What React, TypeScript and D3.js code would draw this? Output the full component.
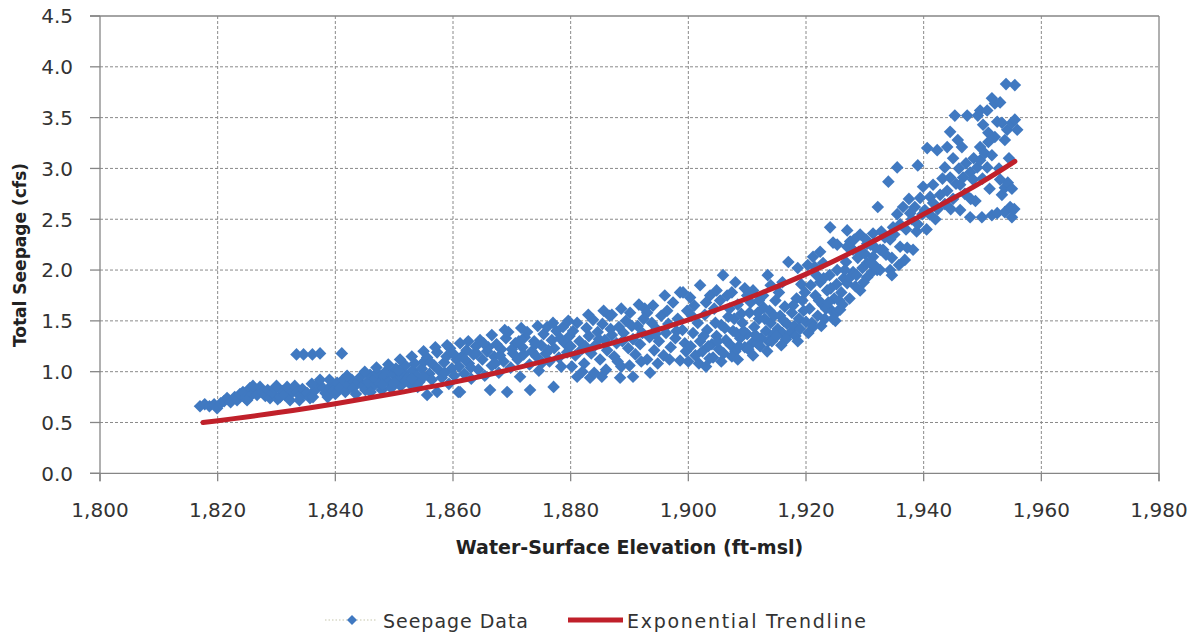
import React from "react";
import * as d3 from "d3";

const xTicks = [1800, 1820, 1840, 1860, 1880, 1900, 1920, 1940, 1960, 1980];
const yTicks = [0, 0.5, 1.0, 1.5, 2.0, 2.5, 3.0, 3.5, 4.0, 4.5];

const xTitle = "Water-Surface Elevation (ft-msl)";
const yTitle = "Total Seepage  (cfs)";
const seriesNames = ["Seepage Data", "Exponential Trendline"];

// Exponential trendline
const trendElev = [1817.5, 1830, 1840, 1850, 1860, 1870, 1880, 1890, 1900, 1910, 1920, 1930, 1940, 1950, 1955.5];
const trendCfs = [0.5, 0.595, 0.685, 0.785, 0.895, 1.025, 1.17, 1.33, 1.51, 1.72, 1.96, 2.24, 2.55, 2.87, 3.07];

// Seepage data [elevation ft-msl, seepage cfs]
const seepageData: [number, number][] = [
  [1817.0,0.66],[1817.8,0.68],[1818.6,0.66],[1819.4,0.68],[1819.9,0.64],[1820.5,0.69],[1821.1,0.71],[1821.6,0.74],[1822.2,0.70],[1822.9,0.75],[1823.3,0.72],[1823.8,0.78],[1824.3,0.80],[1824.7,0.74],[1825.0,0.72],[1825.5,0.84],[1825.9,0.78],[1826.4,0.81],[1826.7,0.77],[1827.2,0.85],[1827.6,0.80],[1828.1,0.76],[1828.5,0.82],[1828.9,0.74],[1829.3,0.79],[1829.7,0.84],[1830.2,0.73],
  [1830.6,0.75],[1831.0,0.81],[1831.4,0.77],[1831.8,0.85],[1832.3,0.72],[1832.7,0.80],[1833.1,0.86],[1833.5,0.80],[1833.9,0.72],[1834.0,0.76],[1834.4,0.83],[1834.9,0.78],[1835.2,0.79],[1835.7,0.74],[1836.2,0.75],[1836.6,0.82],[1837.0,0.87],[1837.4,0.92],[1837.9,0.84],[1838.3,0.79],[1838.7,0.75],[1839.1,0.85],[1839.6,0.81],[1840.0,0.78],[1840.3,0.89],[1840.8,0.84],[1841.3,0.92],[1841.7,0.80],[1842.2,0.87],[1842.8,0.92],[1843.0,0.84],[1843.5,0.78],[1843.9,0.90],[1844.3,0.95],[1844.7,0.86],[1845.1,0.82],
  [1833.4,1.17],[1834.6,1.17],[1836.1,1.17],[1837.4,1.18],[1841.1,1.18],
  [1845.5,0.90],[1845.9,0.97],[1846.3,0.85],[1846.7,0.93],[1847.1,0.99],[1847.5,0.88],[1847.9,0.82],[1848.3,0.95],[1848.7,1.01],[1849.1,0.90],[1849.5,0.84],[1849.9,0.97],[1850.3,1.03],[1850.7,0.92],[1851.1,0.86],[1851.5,0.99],[1851.9,1.06],[1852.3,0.94],[1852.7,0.88],[1853.1,1.01],[1853.5,1.08],[1853.9,0.96],[1854.3,0.90],[1854.7,1.03],[1855.1,1.10],[1855.6,0.77],[1855.6,1.14],[1856.0,0.98],[1856.4,0.92],[1856.8,1.06],[1857.3,0.80],[1857.3,1.19],[1857.7,1.01],[1858.1,0.94],[1858.5,1.09],[1858.9,1.15],[1859.3,0.88],[1859.5,1.23],[1859.8,1.03],[1860.2,0.96],[1860.9,0.80],[1860.6,1.12],
  [1846.0,0.80],[1848.0,0.87],[1850.0,0.89],[1852.0,0.91],[1854.0,0.85],[1856.2,1.09],[1858.6,0.99],[1850.8,1.01],[1853.0,0.93],[1855.0,0.95],
  [1861.0,1.05],[1861.2,1.28],[1861.2,0.80],[1861.5,1.15],[1861.9,0.98],[1862.3,1.21],[1862.7,1.08],[1863.1,0.93],[1863.5,1.17],[1863.9,1.25],[1864.3,1.02],[1864.6,1.31],[1865.0,1.12],[1865.4,0.96],[1865.8,1.20],[1866.3,0.82],[1866.6,1.36],[1866.6,1.06],[1867.0,1.15],[1867.4,1.27],[1867.8,0.99],[1868.2,1.22],[1868.6,1.10],[1869.0,1.33],[1869.2,0.80],[1869.4,1.39],[1869.8,1.04],[1870.2,1.18],
  [1870.6,1.28],[1871.0,1.12],[1871.4,0.95],[1871.8,1.24],[1872.2,1.34],[1872.6,1.39],[1873.0,1.07],[1873.1,0.82],[1873.4,1.20],[1873.8,1.30],[1874.2,1.15],[1874.6,1.01],[1875.0,1.26],[1875.4,1.37],[1875.8,1.18],[1876.0,1.44],[1876.4,1.10],[1876.8,1.31],[1877.1,0.85],[1877.2,1.23],[1877.6,1.40],[1878.0,1.14],[1878.4,1.05],[1878.7,1.44],[1879.0,1.28],[1879.4,1.19],[1879.8,1.35],
  [1862.0,1.12],[1864.0,1.18],[1866.0,1.24],[1868.0,1.16],[1870.0,1.22],[1872.0,1.17],[1874.0,1.27],[1876.2,1.21],[1878.2,1.33],[1880.0,1.25],[1863.0,1.04],[1867.2,1.08],[1871.2,1.30],[1875.2,1.09],
  [1880.4,1.40],[1880.8,1.16],[1881.1,0.95],[1881.1,1.48],[1881.5,1.30],[1881.9,1.22],[1882.3,1.08],[1882.7,1.43],[1883.1,1.35],[1883.3,0.94],[1883.5,1.18],[1883.8,1.51],[1884.2,1.26],[1884.6,1.39],[1885.0,1.12],[1885.3,0.95],[1885.4,1.47],[1885.8,1.31],[1886.2,1.21],[1886.6,1.55],[1887.0,1.56],[1887.0,1.36],[1887.4,1.15],[1887.8,1.28],[1888.2,1.44],[1888.4,0.94],[1888.6,1.05],[1889.0,1.38],[1889.4,1.50],[1889.8,1.23],[1890.1,1.58],[1890.6,0.95],[1890.6,1.32],[1891.0,1.17],[1891.4,1.45],[1891.8,1.27],[1892.2,1.38],[1892.6,1.62],[1893.0,1.58],[1893.0,1.12],[1893.5,0.99],[1893.4,1.34],[1893.8,1.48],[1894.0,1.65],[1894.2,1.21],[1894.6,1.42],[1895.0,1.30],[1895.4,1.55],[1895.8,1.16],[1896.0,1.75],[1896.2,1.38],[1896.6,1.47],[1897.0,1.24],[1897.4,1.68],[1897.8,1.33],[1898.2,1.52],[1898.6,1.78],[1898.6,1.11],[1899.0,1.41],[1899.1,1.78],[1899.4,1.28],[1899.8,1.60],
  [1882.0,1.00],[1884.0,0.99],[1886.0,1.02],[1888.0,1.10],[1890.0,1.06],[1892.0,1.10],[1894.8,1.08],[1896.8,1.12],[1880.2,1.05],[1882.5,1.25],[1884.8,1.32],[1886.8,1.42],[1888.8,1.30],[1890.4,1.45],[1892.4,1.52],[1894.4,1.37],[1896.4,1.60],[1898.0,1.40],[1899.6,1.20],
  [1900.0,1.10],[1900.3,1.73],[1900.4,1.25],[1900.8,1.38],[1901.2,1.16],[1901.6,1.48],[1902.0,1.85],[1902.0,1.30],[1902.4,1.20],[1902.8,1.56],[1903.2,1.41],[1903.6,1.13],[1903.7,1.75],[1904.0,1.27],[1904.2,1.14],[1904.4,1.62],[1904.8,1.35],[1905.2,1.22],[1905.6,1.46],[1905.9,1.95],[1906.0,1.18],[1906.4,1.31],[1906.6,1.75],[1906.8,1.54],[1907.2,1.26],[1907.6,1.40],[1908.0,1.20],[1908.4,1.66],[1908.8,1.33],[1909.2,1.48],[1909.6,1.82],[1909.6,1.24],[1910.0,1.37],[1910.4,1.58],[1910.8,1.28],[1911.0,1.80],[1911.2,1.44],[1911.7,1.28],[1912.0,1.52],[1912.4,1.33],[1912.7,1.75],[1912.8,1.63],[1913.2,1.40],[1913.5,1.95],[1913.6,1.30],[1914.0,1.48],[1914.4,1.36],[1914.8,1.70],[1915.2,1.42],[1915.6,1.55],[1916.0,1.38],[1916.4,1.64],[1916.8,1.47],[1917.0,2.08],[1917.3,1.38],[1917.6,1.58],[1918.0,1.45],[1918.6,2.02],[1918.4,1.72],[1918.8,1.52],[1919.2,1.86],[1919.6,1.60],[1920.0,1.49],[1920.3,2.05],
  [1900.6,1.55],[1901.0,1.65],[1901.8,1.08],[1902.6,1.35],[1903.0,1.68],[1903.4,1.25],[1904.6,1.48],[1905.0,1.30],[1905.4,1.70],[1906.2,1.43],[1907.0,1.62],[1907.4,1.15],[1907.8,1.52],[1908.2,1.38],[1908.6,1.25],[1909.0,1.57],[1909.4,1.40],[1910.2,1.22],[1910.6,1.68],[1911.4,1.36],[1911.8,1.58],[1912.2,1.25],[1913.0,1.52],[1913.8,1.60],[1914.2,1.30],[1914.6,1.55],[1915.0,1.35],[1915.4,1.78],[1916.2,1.50],[1916.6,1.32],[1917.8,1.65],[1918.2,1.35],[1919.0,1.42],[1919.4,1.70],[1919.8,1.78],[1916.0,1.88],[1914.0,1.85],[1908.0,1.88],[1910.0,1.75],[1912.0,1.70],[1904.8,1.80],[1907.4,1.78],
  [1920.6,1.62],[1921.0,1.48],[1921.2,1.44],[1921.2,2.13],[1921.5,2.03],[1921.6,1.75],[1922.0,1.55],[1922.4,2.18],[1922.4,1.88],[1922.8,1.66],[1922.9,2.07],[1923.2,1.52],[1923.6,1.80],[1924.0,1.95],[1924.1,2.42],[1924.4,1.60],[1924.6,2.27],[1924.8,1.72],[1925.2,1.86],[1925.3,2.25],[1925.3,2.00],[1925.3,1.59],[1925.8,1.61],[1926.0,1.78],[1926.4,1.92],[1926.8,2.08],[1927.0,2.39],[1927.0,1.87],[1927.0,2.23],[1927.5,2.28],[1927.5,1.93],[1928.0,2.20],[1928.0,1.98],[1928.4,1.84],[1928.8,2.12],[1929.2,2.35],[1929.2,1.80],[1929.6,2.02],[1930.0,2.16],[1930.4,2.26],[1930.4,2.07],[1930.4,1.93],[1930.9,2.07],[1931.2,1.98],[1931.4,2.36],[1931.4,2.13],[1931.8,2.22],[1932.1,2.00],[1932.2,2.62],[1932.6,2.20],[1932.6,2.00],[1933.1,2.20],[1933.4,2.32],[1934.0,2.87],[1934.3,2.30],[1934.3,2.00],[1934.8,2.42],
  [1920.8,1.85],[1921.8,1.95],[1922.2,1.70],[1923.0,1.92],[1923.4,1.62],[1923.8,1.68],[1924.2,1.82],[1925.0,1.50],[1925.6,1.70],[1926.2,1.66],[1926.6,2.00],[1927.4,1.72],[1928.2,2.30],[1928.6,1.95],[1929.0,2.18],[1929.8,1.88],[1930.2,2.30],[1931.0,2.25],[1931.6,2.05],[1932.8,2.38],[1933.6,2.15],[1934.6,2.12],
  [1935.0,2.35],[1935.5,3.01],[1935.5,2.55],[1936.0,2.23],[1936.0,2.45],[1936.5,2.62],[1937.0,2.40],[1937.2,2.22],[1937.7,2.56],[1937.5,2.70],[1938.0,2.50],[1938.2,2.20],[1938.5,2.62],[1938.8,2.38],[1939.0,3.03],[1939.0,2.45],[1939.4,2.71],[1939.9,2.82],[1939.8,2.55],[1940.2,2.59],[1940.6,3.20],[1940.5,2.40],[1941.1,2.72],[1941.0,2.55],[1941.6,2.84],[1941.6,2.66],[1942.0,2.50],[1942.3,3.18],[1942.4,2.60],[1942.8,2.74],[1943.2,2.90],[1943.6,3.01],[1943.6,2.65],[1944.0,3.21],[1944.0,2.78],[1944.5,3.36],[1944.5,2.91],[1944.6,2.60],[1945.0,2.70],
  [1935.8,2.05],[1936.8,2.10],[1934.6,1.95],
  [1945.3,3.52],[1945.8,3.28],[1946.2,2.84],[1946.2,2.59],[1946.5,3.21],[1946.7,2.91],[1947.0,2.75],[1947.4,3.52],[1947.9,2.96],[1947.9,2.52],[1948.4,2.89],[1948.5,3.10],[1948.8,2.68],[1949.1,3.01],[1949.2,3.52],[1949.6,3.57],[1949.6,3.21],[1949.6,3.08],[1949.9,2.52],[1950.1,3.43],[1950.4,3.15],[1950.8,3.57],[1950.8,3.01],[1951.0,3.35],[1951.0,3.26],[1951.6,3.69],[1951.6,3.13],[1951.6,2.54],[1952.1,3.64],[1952.1,3.31],[1952.5,3.46],[1952.5,2.56],[1953.0,3.65],[1953.0,2.89],[1953.3,3.45],[1953.3,2.74],[1953.8,3.28],[1953.8,2.81],[1953.8,2.57],[1954.0,3.83],[1954.2,3.38],[1954.3,2.86],[1954.7,2.62],[1955.0,3.45],[1955.0,2.52],[1955.5,3.82],[1955.5,3.48],[1955.9,3.38],[1955.4,2.60],[1955.0,2.80],[1954.5,3.10],[1952.8,3.00],[1951.2,2.80],[1950.0,2.90],[1948.0,2.70],[1947.2,3.05],[1946.0,3.00],[1945.5,2.85],[1945.0,3.10],
  [1826.0,0.86],[1830.0,0.86],[1836.0,0.88],[1839.0,0.92],[1842.0,0.96],[1845.0,1.00],[1847.0,1.04],[1849.0,1.07],[1851.0,1.12],[1853.0,1.15],[1855.0,1.20],[1857.0,1.24],[1859.0,1.26],
  [1860.0,1.18],[1862.6,1.30],[1865.2,1.28],[1868.8,1.41],[1871.6,1.43],[1874.4,1.45],[1877.0,1.48],[1879.6,1.50],[1883.0,1.56],[1885.6,1.60],[1888.6,1.62],[1891.6,1.66],
  [1903.0,1.05],[1905.6,1.10],[1908.4,1.12],[1911.0,1.16],[1913.4,1.20],[1915.8,1.26],[1918.6,1.30],[1920.4,1.38],[1922.6,1.45],[1924.6,1.52],
];

const W = 1198;
const H = 635;
const plot = { left: 100, right: 1159, top: 16, bottom: 473.3 };

const BLUE = "#4079c1";
const RED = "#c0202a";
const GRID = "#8a8a8a";
const AXIS = "#868686";
const TEXT = "#333333";

const diamond = (r: number) => `M0,${-r}L${r},0L0,${r}L${-r},0Z`;

export default function App() {
  const x = d3.scaleLinear().domain([1800, 1980]).range([plot.left, plot.right]);
  const y = d3.scaleLinear().domain([0, 4.5]).range([plot.bottom, plot.top]);
  const fmtX = d3.format(",");
  const fmtY = d3.format(".1f");

  const trendPts: [number, number][] = trendElev.map((e, i) => [e, trendCfs[i]]);
  const line = d3
    .line<[number, number]>()
    .x((d) => x(d[0]))
    .y((d) => y(d[1]))
    .curve(d3.curveMonotoneX);

  const xMin = xTicks[0];
  const xMax = xTicks[xTicks.length - 1];
  const yMin = yTicks[0];
  const yMax = yTicks[yTicks.length - 1];

  return (
    <div style={{ position: "absolute", left: 0, top: 0, width: W, height: H, background: "#fff" }}>
      <svg width={W} height={H} style={{ display: "block" }}>
        <rect x={0} y={0} width={W} height={H} fill="#ffffff" />
        {yTicks
          .filter((t) => t !== yMin && t !== yMax)
          .map((t) => (
            <line key={"gy" + t} x1={plot.left} x2={plot.right} y1={y(t)} y2={y(t)} stroke={GRID} strokeWidth={1} strokeDasharray="3,2" />
          ))}
        {xTicks
          .filter((t) => t !== xMin && t !== xMax)
          .map((t) => (
            <line key={"gx" + t} x1={x(t)} x2={x(t)} y1={plot.top} y2={plot.bottom} stroke={GRID} strokeWidth={1} strokeDasharray="3,2" />
          ))}
        <line x1={plot.left - 10} x2={plot.right} y1={y(yMax)} y2={y(yMax)} stroke={AXIS} strokeWidth={1.3} />
        <line x1={x(xMax)} x2={x(xMax)} y1={plot.top} y2={plot.bottom + 8} stroke={AXIS} strokeWidth={1.3} />
        <line x1={plot.left} x2={plot.left} y1={plot.top} y2={plot.bottom + 8} stroke={AXIS} strokeWidth={1.3} />
        <line x1={plot.left - 10} x2={plot.right} y1={plot.bottom} y2={plot.bottom} stroke={AXIS} strokeWidth={1.3} />
        {yTicks.map((t) => (
          <line key={"ty" + t} x1={plot.left - 10} x2={plot.left} y1={y(t)} y2={y(t)} stroke={AXIS} strokeWidth={1.3} />
        ))}
        {xTicks.map((t) => (
          <line key={"tx" + t} x1={x(t)} x2={x(t)} y1={plot.bottom} y2={plot.bottom + 8} stroke={AXIS} strokeWidth={1.3} />
        ))}
        {yTicks.map((t) => (
          <text key={"ly" + t} x={73} y={y(t) + 7.3} textAnchor="end" fontFamily="DejaVu Sans" fontSize={20} fill={TEXT}>
            {fmtY(t)}
          </text>
        ))}
        {xTicks.map((t) => (
          <text key={"lx" + t} x={x(t)} y={516.5} textAnchor="middle" fontFamily="DejaVu Sans" fontSize={20} fill={TEXT}>
            {fmtX(t)}
          </text>
        ))}
        <g fill={BLUE}>
          {seepageData.map((d, i) => (
            <path key={"p" + i} d={diamond(6.3)} transform={`translate(${x(d[0])},${y(d[1])})`} />
          ))}
        </g>
        <path d={line(trendPts) || ""} fill="none" stroke={RED} strokeWidth={5} strokeLinecap="round" />
        <text x={(plot.left + plot.right) / 2} y={554} textAnchor="middle" fontFamily="DejaVu Sans" fontWeight="bold" fontSize={19} fill="#222">
          {xTitle}
        </text>
        <text transform="translate(26,255) rotate(-90)" textAnchor="middle" fontFamily="DejaVu Sans" fontWeight="bold" fontSize={17} fill="#222">
          {yTitle}
        </text>
        <line x1={325} x2={377} y1={620} y2={620} stroke="#d9d9c8" strokeWidth={1.5} strokeDasharray="1.5,2" />
        <path d={diamond(5)} transform="translate(352,620)" fill={BLUE} />
        <text x={383} y={627.5} fontFamily="DejaVu Sans" fontSize={19} fill={TEXT} textLength={145} lengthAdjust="spacing">
          {seriesNames[0]}
        </text>
        <line x1={568} x2={623} y1={620} y2={620} stroke={RED} strokeWidth={5} />
        <text x={627} y={627.5} fontFamily="DejaVu Sans" fontSize={19} fill={TEXT} textLength={239} lengthAdjust="spacing">
          {seriesNames[1]}
        </text>
      </svg>
    </div>
  );
}
